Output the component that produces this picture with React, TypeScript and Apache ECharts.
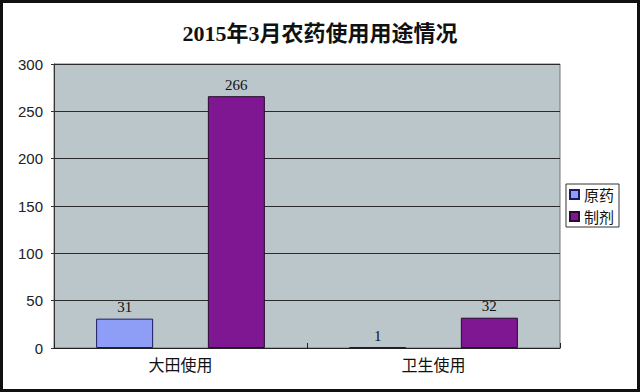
import React, { useEffect, useRef } from "react";
import * as echarts from "echarts";

const categories = ["大田使用", "卫生使用"];
const seriesNames = ["原药", "制剂"];
const rawValues = [31, 1];
const formulationValues = [266, 32];
const yTicks = [0, 50, 100, 150, 200, 250, 300];

export default function App() {
  const ref = useRef<HTMLDivElement>(null);
  useEffect(() => {
    if (!ref.current) return;
    const chart = echarts.init(ref.current, null, { renderer: "svg" });
    const labelStyle = {
      show: true,
      position: "top" as const,
      distance: 4,
      color: "#111",
      fontSize: 15,
      fontFamily: "Liberation Serif, serif",
    };
    chart.setOption({
      animation: false,
      backgroundColor: "#ffffff",
      title: {
        text: "2015年3月农药使用用途情况",
        left: "center",
        top: 17,
        textStyle: {
          fontSize: 22,
          fontWeight: "bold",
          color: "#111",
          fontFamily: "Liberation Serif, 'Noto Sans CJK SC', serif",
        },
      },
      legend: {
        orient: "vertical",
        left: 566,
        top: 184,
        backgroundColor: "#fff",
        borderColor: "#333",
        borderWidth: 1,
        borderRadius: 0,
        padding: [2, 5, 2, 3],
        itemWidth: 9,
        itemHeight: 9,
        itemGap: 5,
        icon: "rect",
        textStyle: {
          fontSize: 15,
          lineHeight: 17,
          color: "#111",
          padding: 0,
          fontFamily: "'Noto Sans CJK SC', sans-serif",
        },
        data: seriesNames,
      },
      grid: {
        left: 54,
        top: 64,
        right: 80,
        bottom: 44,
        show: true,
        backgroundColor: "#BAC6CA",
        borderColor: "#777",
        borderWidth: 1,
      },
      xAxis: {
        type: "category",
        data: categories,
        axisLine: { show: true, lineStyle: { color: "#222", width: 1 } },
        axisTick: { show: true, inside: true, length: 5, lineStyle: { color: "#222" } },
        axisLabel: {
          fontSize: 16,
          color: "#111",
          margin: 8,
          fontFamily: "'Noto Sans CJK SC', sans-serif",
        },
      },
      yAxis: {
        type: "value",
        min: 0,
        max: 300,
        interval: 50,
        axisLine: { show: true, lineStyle: { color: "#333", width: 1 } },
        axisTick: { show: true, length: 3, lineStyle: { color: "#333" } },
        splitLine: { show: true, lineStyle: { color: "#2a2a2a", width: 1 } },
        axisLabel: {
          fontSize: 15,
          color: "#222",
          margin: 11,
          fontFamily: "'Liberation Sans', Arial, sans-serif",
          formatter: (v: number) => (yTicks.includes(v) ? String(v) : ""),
        },
      },
      series: [
        {
          name: seriesNames[0],
          type: "bar",
          data: rawValues,
          barWidth: 57,
          barGap: "96%",
          itemStyle: { color: "#8E9EF6", borderColor: "#1a1a60", borderWidth: 1 },
          label: labelStyle,
        },
        {
          name: seriesNames[1],
          type: "bar",
          data: formulationValues,
          barWidth: 57,
          itemStyle: { color: "#7E1791", borderColor: "#2a0a30", borderWidth: 1 },
          label: labelStyle,
        },
      ],
      graphic: [
        {
          type: "rect",
          shape: { x: 1.5, y: 1.5, width: 637, height: 389 },
          style: { fill: "none", stroke: "#111", lineWidth: 3 },
          silent: true,
        },
      ],
    });
    return () => chart.dispose();
  }, []);
  return (
    <div
      ref={ref}
      style={{ position: "fixed", left: 0, top: 0, width: 640, height: 392 }}
    />
  );
}
